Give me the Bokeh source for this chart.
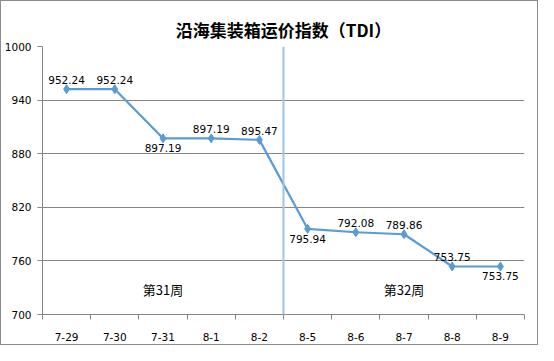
from bokeh.plotting import figure
from bokeh.models import FixedTicker, Span, Range1d
from bokeh.core.properties import value
from bokeh.embed import file_html
from bokeh.resources import INLINE

dates = ["7-29", "7-30", "7-31", "8-1", "8-2", "8-5", "8-6", "8-7", "8-8", "8-9"]
tdi = [952.24, 952.24, 897.19, 897.19, 895.47, 795.94, 792.08, 789.86, 753.75, 753.75]
label_pos = ["above", "above", "below", "above", "above", "below", "above", "above", "above", "below"]
y_ticks = [700, 760, 820, 880, 940, 1000]
weeks = ["第31周", "第32周"]
week_center_idx = [2, 7]
week_label_y = 728
week_split_idx = 5

xs = [i + 0.5 for i in range(len(dates))]

p = figure(width=538, height=345, output_backend="svg", toolbar_location=None,
           x_range=Range1d(0, len(dates)), y_range=Range1d(700, 1000),
           min_border_left=40, min_border_right=15, min_border_top=45, min_border_bottom=32,
           background_fill_color="white", border_fill_color="white")
p.styles = {"border": "1px solid #8c8c8c", "box-sizing": "border-box"}

p.title.text = "沿海集装箱运价指数（TDI）"
p.title.align = "center"
p.title.text_font = "Noto Sans CJK SC"
p.title.text_font_size = "17px"
p.title.text_font_style = "bold"
p.title.text_color = "#000000"
p.title.standoff = 9

p.outline_line_color = None

p.xgrid.grid_line_color = None
p.ygrid.grid_line_color = "#868686"
p.ygrid.grid_line_width = 1

p.yaxis.ticker = FixedTicker(ticks=y_ticks)
p.yaxis.axis_line_color = "#868686"
p.yaxis.major_tick_line_color = "#868686"
p.yaxis.major_tick_out = 5
p.yaxis.major_tick_in = 0
p.yaxis.minor_tick_line_color = None
p.yaxis.major_label_text_font = "DejaVu Sans"
p.yaxis.major_label_text_font_size = "10.5px"
p.yaxis.major_label_text_color = "#000000"
p.yaxis.major_label_standoff = 6

p.xaxis.ticker = FixedTicker(ticks=xs, minor_ticks=list(range(len(dates) + 1)))
p.xaxis.major_label_overrides = {x: d for x, d in zip(xs, dates)}
p.xaxis.axis_line_color = "#868686"
p.xaxis.major_tick_line_color = None
p.xaxis.minor_tick_line_color = "#868686"
p.xaxis.minor_tick_out = 5
p.xaxis.minor_tick_in = 0
p.xaxis.major_label_text_font = "DejaVu Sans"
p.xaxis.major_label_text_font_size = "10.5px"
p.xaxis.major_label_text_color = "#000000"
p.xaxis.major_label_standoff = 12

p.add_layout(Span(location=week_split_idx, dimension="height", line_color="#9dc3e6", line_width=2))

p.line(xs, tdi, line_color="#5b9bd5", line_width=2.2)
p.scatter(xs, tdi, marker="diamond", size=9, fill_color="#5b9bd5", line_color="#5b9bd5")

ax, ay, at = [], [], []
bx, by, bt = [], [], []
for x, v, pos in zip(xs, tdi, label_pos):
    if pos == "above":
        ax.append(x); ay.append(v); at.append(f"{v:.2f}")
    else:
        bx.append(x); by.append(v); bt.append(f"{v:.2f}")
p.text(ax, ay, text=at, text_align="center", text_baseline="bottom", y_offset=-5,
       text_font=value("DejaVu Sans"), text_font_size="10.5px", text_color="#000000")
p.text(bx, by, text=bt, text_align="center", text_baseline="top", y_offset=6,
       text_font=value("DejaVu Sans"), text_font_size="10.5px", text_color="#000000")

p.text([i + 0.5 for i in week_center_idx], [week_label_y] * len(weeks), text=weeks,
       text_align="center", text_baseline="middle",
       text_font=value("Noto Sans CJK SC"), text_font_size="13px", text_color="#000000")

open("out.html", "w").write(file_html(p, INLINE))
